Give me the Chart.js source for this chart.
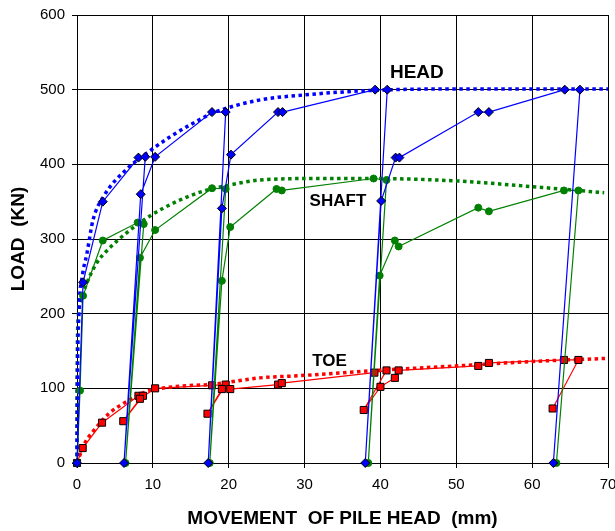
<!DOCTYPE html>
<html>
<head>
<meta charset="utf-8">
<style>
html, body { margin: 0; padding: 0; background: #fff; }
</style>
</head>
<body>
<canvas id="chart" width="615" height="531"></canvas>
<script src="https://cdn.jsdelivr.net/npm/chart.js@4.4.1/dist/chart.umd.min.js"></script>
<script>
const FONT = "'Liberation Sans', Arial, sans-serif";

// measured points, in test order (load - hold - unload - reload)
const headX = [0, 0.8, 3.4, 8.1, 9.0, 6.2, 8.4, 10.3, 17.8, 19.6, 17.3, 19.1, 20.3, 26.5, 27.1, 39.3, 40.9, 38.0, 40.1, 42.0, 42.5, 52.9, 54.3, 64.3, 66.3, 62.8];
const headY = [0, 242, 350, 409, 410, 0, 360, 410, 470, 470, 0, 341, 413, 470, 470, 500, 500, 0, 351, 409, 409, 470, 470, 500, 500, 0];

const shaftX = [0, 0.4, 0.8, 3.4, 8.0, 8.8, 6.4, 8.3, 10.3, 17.8, 19.6, 17.5, 19.1, 20.2, 26.3, 27.0, 39.1, 40.8, 38.4, 39.9, 41.9, 42.4, 52.9, 54.3, 64.2, 66.1, 63.2];
const shaftY = [0, 97, 224, 298, 322, 320, 0, 275, 312, 368, 367, 0, 244, 316, 367, 365, 381, 379, 0, 251, 298, 290, 342, 337, 365, 365, 0];

const toeX = [0, 0.75, 3.3, 8.1, 8.7, 6.1, 8.3, 10.3, 17.8, 19.6, 17.2, 19.1, 20.2, 26.5, 27.0, 39.2, 40.8, 37.8, 40.0, 41.9, 42.4, 52.9, 54.3, 64.2, 66.1, 62.7];
const toeY = [0, 20, 54, 90, 90, 56, 86, 100, 104, 105, 66, 99, 99, 105, 107, 121, 124, 71, 102, 114, 124, 130, 134, 138, 138, 73];

// dotted trend curves
const headFitX = [0, 0.05, 0.25, 0.7, 1.3, 2.1, 3.5, 6.5, 9.2, 12.3, 15.3, 18, 24, 30, 39, 50, 60, 70];
const headFitY = [0, 100, 200, 250, 280, 325, 357, 393, 415, 437, 455, 469, 486, 493, 499, 501, 501, 501];

const shaftFitX = [0, 0.02, 0.17, 0.6, 1.3, 2.6, 4.0, 6.5, 9.8, 13.1, 16.6, 20, 24.1, 31.6, 39, 49.6, 60.1, 69.5];
const shaftFitY = [0, 116, 196, 220, 241, 268, 285, 308, 332, 350, 364, 372, 379, 381, 381, 378, 370, 362];

const toeFitX = [0, 1.05, 2.1, 4.3, 6.5, 9.2, 11.8, 15.3, 17.5, 24.1, 29.4, 39.5, 50, 60.1, 69.6];
const toeFitY = [0, 27, 42, 67, 82, 96, 101, 104, 105, 114, 117, 124, 130, 136, 140];

// curve names written on the plot
const curveNames = ['HEAD', 'SHAFT', 'TOE'];
const curveNameX = [44.8, 34.4, 33.3];
const curveNameY = [522, 350, 136];

function pts(xs, ys) {
    return xs.map((x, i) => ({ x: x, y: ys[i] }));
}

const curveLabels = {
    id: 'curveLabels',
    afterDatasetsDraw(chart) {
        const ctx = chart.ctx;
        const sx = chart.scales.x, sy = chart.scales.y;
        ctx.save();
        ctx.fillStyle = '#000';
        ctx.textAlign = 'center';
        ctx.textBaseline = 'middle';
        curveNames.forEach((name, i) => {
            ctx.font = 'bold ' + (i === 0 ? 19 : 17) + 'px ' + FONT;
            ctx.fillText(name, sx.getPixelForValue(curveNameX[i]), sy.getPixelForValue(curveNameY[i]));
        });
        ctx.restore();
    }
};

function measured(label, xs, ys, color, style, radius, edge) {
    return {
        label: label,
        data: pts(xs, ys),
        showLine: true,
        borderColor: color,
        borderWidth: 1.2,
        pointStyle: style,
        pointRadius: radius,
        pointBackgroundColor: color,
        pointBorderColor: edge,
        pointBorderWidth: 1,
        clip: false
    };
}

function trend(label, xs, ys, color) {
    return {
        label: label,
        data: pts(xs, ys),
        showLine: true,
        borderColor: color,
        borderWidth: 3.5,
        borderDash: [3.5, 3.5],
        borderCapStyle: 'butt',
        pointRadius: 0,
        cubicInterpolationMode: 'monotone',
        clip: false
    };
}

new Chart(document.getElementById('chart'), {
    type: 'scatter',
    data: {
        datasets: [
            measured('HEAD', headX, headY, '#0000ff', 'rectRot', 4.5, '#000'),
            measured('SHAFT', shaftX, shaftY, '#008000', 'circle', 3.5, '#008000'),
            measured('TOE', toeX, toeY, '#ff0000', 'rect', 5, '#000'),
            trend('HEAD fit', headFitX, headFitY, '#0000ff'),
            trend('SHAFT fit', shaftFitX, shaftFitY, '#008000'),
            trend('TOE fit', toeFitX, toeFitY, '#ff0000')
        ]
    },
    options: {
        responsive: false,
        animation: false,
        layout: { padding: { top: 15, right: 7, left: 0, bottom: 0 } },
        plugins: {
            legend: { display: false },
            tooltip: { enabled: false }
        },
        scales: {
            x: {
                type: 'linear',
                min: 0,
                max: 70,
                ticks: { stepSize: 10, color: '#000', font: { family: FONT, size: 15 }, padding: 8, maxRotation: 0 },
                grid: { color: '#000', lineWidth: 1, tickLength: 5 },
                border: { color: '#000', width: 1 },
                title: {
                    display: true,
                    text: 'MOVEMENT  OF PILE HEAD  (mm)',
                    color: '#000',
                    font: { family: FONT, size: 19, weight: 'bold' },
                    padding: { top: 0, bottom: 1 }
                },
                afterFit(s) { s.height = 68; s.paddingLeft = 0; s.paddingRight = 0; }
            },
            y: {
                type: 'linear',
                min: 0,
                max: 600,
                ticks: { stepSize: 100, color: '#000', font: { family: FONT, size: 15 }, padding: 7 },
                grid: { color: '#000', lineWidth: 1, tickLength: 5 },
                border: { color: '#000', width: 1 },
                title: {
                    display: true,
                    text: 'LOAD  (KN)',
                    color: '#000',
                    font: { family: FONT, size: 19, weight: 'bold' },
                    padding: { top: 7.5, bottom: 0 }
                },
                afterFit(s) { s.width = 77; s.paddingTop = 0; s.paddingBottom = 0; }
            }
        }
    },
    plugins: [curveLabels]
});
</script>
</body>
</html>
